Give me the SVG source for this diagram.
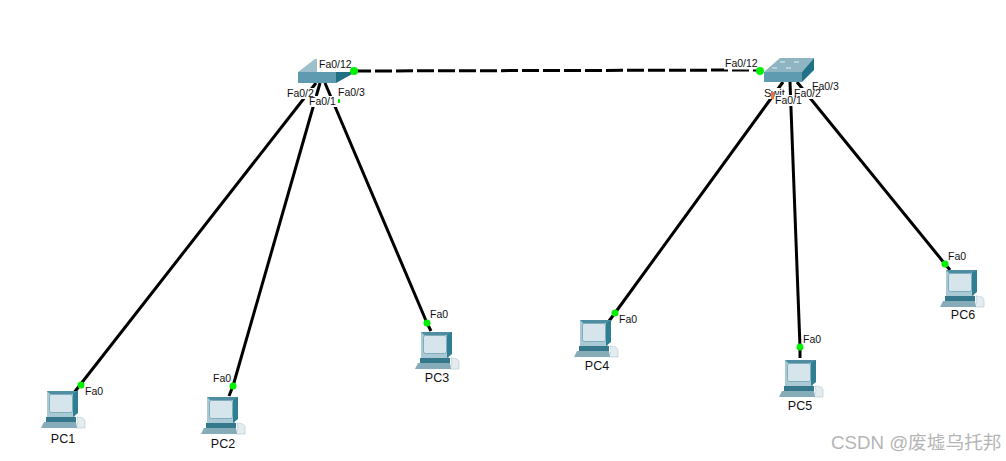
<svg xmlns="http://www.w3.org/2000/svg" width="1006" height="461" viewBox="0 0 1006 461">
<style>
text{font-family:"Liberation Sans",Arial,"Noto Sans CJK SC",sans-serif;fill:#111}
.p{font-size:10.5px}
.n{font-size:12.5px;text-anchor:middle}
.l{stroke:#000;stroke-width:3;fill:none}
.d{fill:#00f000}
.w{fill:#fff}
</style>
<defs>
<g id="pc">
<path d="M77 417Q86 417 85 423L85 428H76L78 422Z" fill="#e4ecef" stroke="#b9cdd4" stroke-width=".7"/>
<rect x="47" y="391" width="28" height="26" fill="#a9c9d4"/>
<path d="M73 391H78V413L73 417Z" fill="#2f7f92"/>
<path d="M47 391H78L73 394H50Z" fill="#4f8ea2"/>
<rect x="49.500" y="394.500" width="23" height="18" rx="2" fill="#d6e5ec" stroke="#7fadbc"/>
<rect x="46" y="417" width="30" height="5" fill="#35788c"/>
<path d="M44 422H76L77 428H41Z" fill="#86acb9"/>
</g>
</defs>
<rect width="1006" height="461" fill="#fff"/>
<g id="connectors">
<path class="l" d="M316 83L80 385"/>
<path class="l" d="M320 83L233 386"/>
<path class="l" d="M325 83L427 323"/>
<path class="l" d="M354 71L760 70" stroke-dasharray="17 4"/>
<path class="l" d="M783 82L615 313"/>
<path class="l" d="M790 82L800 347"/>
<path class="l" d="M797 82L945 264"/>
<path class="l" d="M80 385L73 394M233 386L229 396M427 323L431 331M615 313L609 321M800 347L800 358M945 264L950 270"/>
<circle class="d" cx="81" cy="385" r="3.500"/>
<circle class="d" cx="233" cy="386" r="3.500"/>
<circle class="d" cx="427" cy="323" r="3.500"/>
<circle class="d" cx="615" cy="313" r="3.500"/>
<circle class="d" cx="800" cy="347" r="3.500"/>
<circle class="d" cx="945" cy="264" r="3.500"/>
</g>
<g id="switch0">
<path d="M298 72L315 59H344L336 72Z" fill="#9dbfcb"/>
<rect x="298" y="72" width="38" height="11" fill="#5f9bb0"/>
<path d="M336 72H354V73L336 83Z" fill="#1f6f85"/>
<rect class="w" x="317" y="58" width="36" height="14"/>
<circle class="d" cx="354" cy="71" r="4"/>
<rect class="w" x="287" y="88" width="28" height="11"/>
<rect class="w" x="338" y="87" width="28" height="11"/>
<rect class="w" x="309" y="96" width="29" height="11"/>
<rect class="d" x="338" y="99" width="2" height="4"/>
<text class="p" x="319" y="68">Fa0/12</text>
<text class="p" x="287" y="97">Fa0/2</text>
<text class="p" x="309" y="105">Fa0/1</text>
<text class="p" x="338" y="96">Fa0/3</text>
</g>
<g id="switch1">
<path d="M764 72L780 58H814L802 72Z" fill="#8fb5c2"/>
<path d="M802 72L814 58V70L802 82Z" fill="#1f7188"/>
<rect x="764" y="72" width="38" height="10" fill="#5f9bb0"/>
<path d="M780 62H806M772 68H798" stroke="#e6f0f3" stroke-width="1.200" stroke-dasharray="5 9"/>
<rect class="w" x="724" y="57" width="35" height="12.500"/>
<circle class="d" cx="760" cy="71" r="4"/>
<rect class="w" x="764" y="88" width="16" height="11"/>
<text x="764" y="97" style="font-size:11px">Swit</text>
<rect x="771" y="92" width="3" height="7" fill="#e8743a"/>
<rect class="w" x="775" y="95" width="29" height="11"/>
<rect class="w" x="794" y="88" width="28" height="11"/>
<rect class="w" x="812" y="80" width="28" height="11"/>
<text class="p" x="775" y="104">Fa0/1</text>
<text class="p" x="794" y="97">Fa0/2</text>
<text class="p" x="812" y="90">Fa0/3</text>
<text class="p" x="725" y="67">Fa0/12</text>
</g>
<g id="pc1"><use href="#pc"/><text class="n" x="63" y="443">PC1</text><text class="p" x="85" y="395">Fa0</text></g>
<g id="pc2"><use href="#pc" x="160" y="6"/><text class="n" x="223" y="448">PC2</text><text class="p" x="213" y="382">Fa0</text></g>
<g id="pc3"><use href="#pc" x="374" y="-59"/><text class="n" x="437" y="382">PC3</text><text class="p" x="430" y="318">Fa0</text></g>
<g id="pc4"><use href="#pc" x="533" y="-71"/><text class="n" x="597" y="370">PC4</text><text class="p" x="619" y="323">Fa0</text></g>
<g id="pc5"><use href="#pc" x="738" y="-31"/><text class="n" x="800" y="410">PC5</text><text class="p" x="803" y="343">Fa0</text></g>
<g id="pc6"><use href="#pc" x="899" y="-121"/><text class="n" x="963" y="319">PC6</text><text class="p" x="948" y="260">Fa0</text></g>
<text x="831" y="449" style="font-size:18.700px;fill:#b5b5b5">CSDN @废墟乌托邦</text>
</svg>
